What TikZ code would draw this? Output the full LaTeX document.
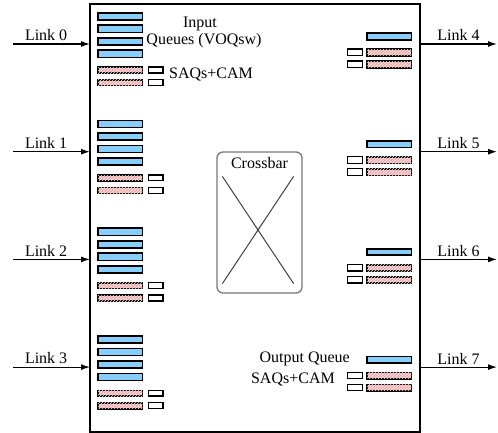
\documentclass[tikz,border=0pt]{standalone}
\usepackage{fontspec}
\setmainfont{Liberation Serif}
\definecolor{voqblue}{RGB}{135,206,250}
\definecolor{saqpink}{RGB}{240,176,176}
\definecolor{xgray}{RGB}{120,120,120}
\usetikzlibrary{calc, arrows.meta, patterns, positioning}
\tikzstyle{voq} = [
    rectangle,
    draw = black,
    line width = 1.6pt,
    fill = voqblue,
    minimum width = 44.5pt,
    minimum height = 7.2pt,
    inner sep = 0pt,
    anchor = north west
]
\tikzstyle{saq} = [
    rectangle,
    draw = black,
    line width = 1.6pt,
    fill = saqpink,
    postaction = {pattern = north east lines, pattern color = white!70!saqpink},
    minimum width = 44.5pt,
    minimum height = 5.8pt,
    inner sep = 0pt,
    anchor = north west
]
\tikzstyle{cam} = [
    rectangle,
    draw = black,
    line width = 1.3pt,
    fill = white,
    minimum width = 14.8pt,
    minimum height = 5.8pt,
    inner sep = 0pt,
    anchor = north west
]
\tikzstyle{link} = [
    -{Latex[length=9pt, width=6pt]},
    line width = 1.2pt
]
\tikzstyle{lbl} = [
    inner sep = 0pt,
    font = \fontsize{16}{17}\selectfont
]

\begin{document}
\begin{tikzpicture}[x=1pt, y=-1pt]
        \useasboundingbox (0,0) rectangle (498,433);

        %% Switch
        \node (sw) [draw, line width=1.5pt, outer sep=0pt, minimum width=330pt, minimum height=428pt] at (255,218) {};

        %% Input links and queues
        \foreach \i [evaluate=\i as \y using 107.7*\i] in {0,...,3} {
            \coordinate (in\i) at (13, {44+\y});
            \draw[link] (in\i) -- (in\i -| sw.west) node[pos=0.43, above, lbl, inner sep=2.5pt] {Link \i};
            \foreach \k in {0,...,3}
                \node (voq\i\k) [voq] at (97, {12+\y+12.5*\k}) {};
            \foreach \k in {0,1} {
                \node (saq\i\k) [saq] at (97, {66.5+\y+12.5*\k}) {};
                \node (cam\i\k) [cam] at (147.5, {66.5+\y+12.5*\k}) {};
            }
        }

        %% Output links and queues
        \foreach \o [evaluate=\o as \y using 107.7*(\o-4)] in {4,...,7} {
            \coordinate (out\o) at (497, {44+\y});
            \draw[link] (out\o -| sw.east) -- (out\o) node[midway, above, lbl, inner sep=2.5pt] {Link \o};
            \node (oq\o) [voq, minimum height=6.5pt] at (366, {32.5+\y}) {};
            \foreach \k in {0,1} {
                \node (osaq\o\k) [saq, minimum height=6.5pt] at (366, {48.5+\y+12*\k}) {};
                \node (ocam\o\k) [cam, minimum height=6.5pt] at (347, {48.5+\y+12*\k}) {};
            }
        }

        %% Labels
        \node (input)  [lbl, anchor=base] at (200,28) {Input};
        \node (queues) [lbl, anchor=base] at (204,45) {Queues (VOQsw)};
        \node (insaq)  [lbl, anchor=base west] at (169,79) {SAQs+CAM};
        \node (outq)   [lbl, anchor=base east] at (350,362) {Output Queue};
        \node (outsaq) [lbl, anchor=base east] at (335,383) {SAQs+CAM};

        %% Crossbar
        \node (xbar) [draw=xgray, line width=1.3pt, rounded corners=6pt, minimum width=85pt, minimum height=141pt] at (259.5,222.5) {};
        \node (xlbl) [lbl, anchor=base] at (259.5,168) {Crossbar};
        \draw[line width=1pt, black!75] ($(xbar.north west)+(6,25)$) -- ($(xbar.south east)+(-9,-10)$);
        \draw[line width=1pt, black!75] ($(xbar.north east)+(-9,25)$) -- ($(xbar.south west)+(6,-10)$);

    \end{tikzpicture}
\end{document}
